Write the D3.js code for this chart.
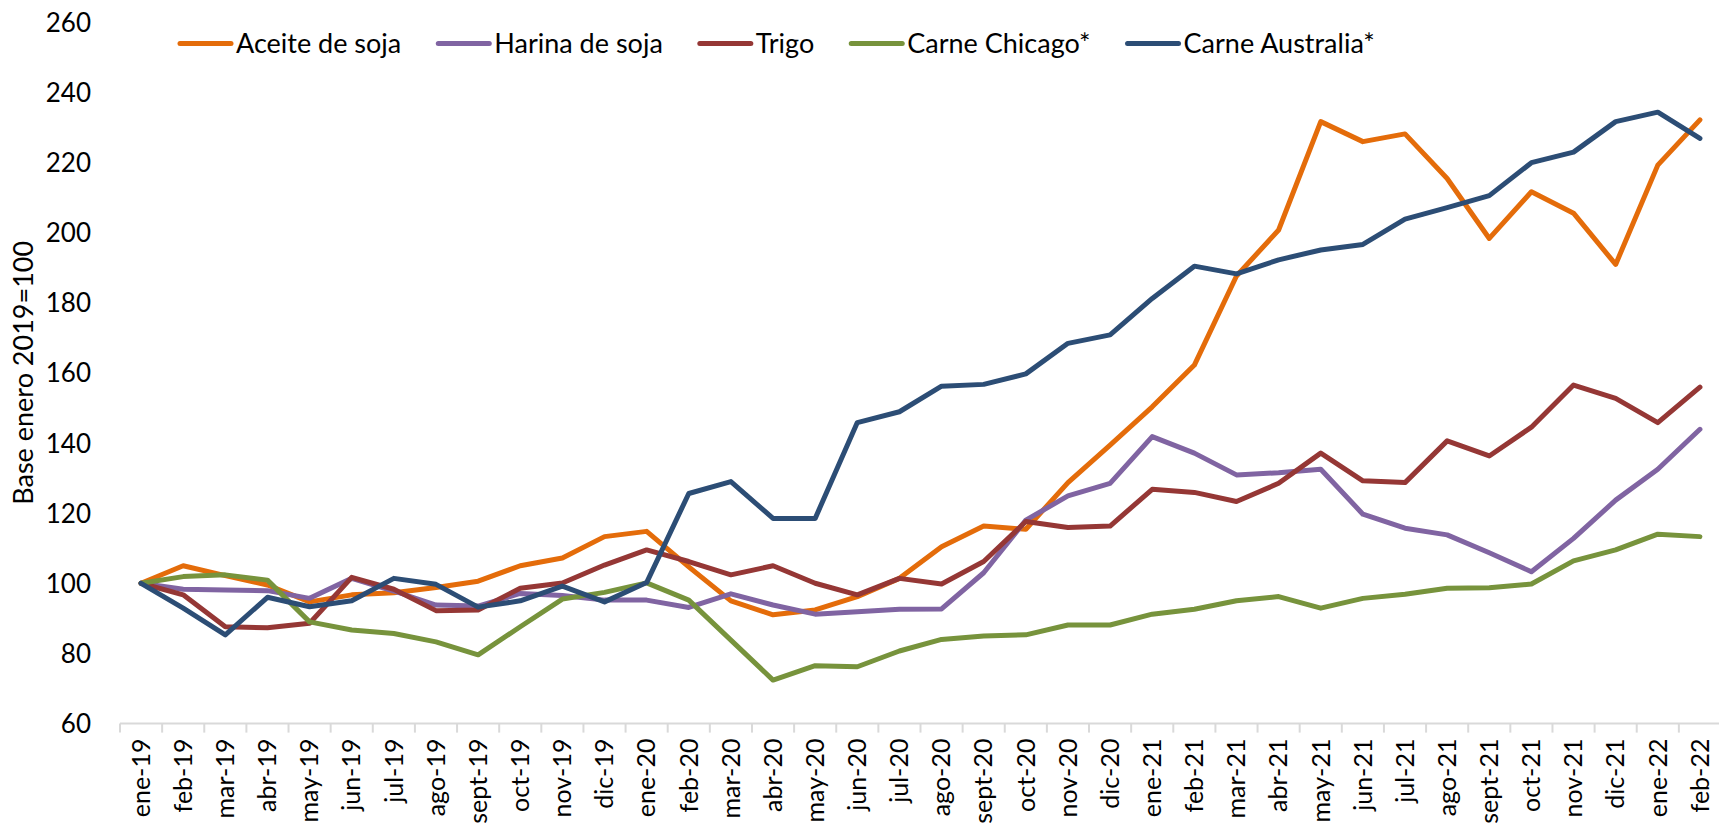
<!DOCTYPE html>
<html>
<head>
<meta charset="utf-8">
<script src="https://cdn.jsdelivr.net/npm/d3@7"></script>
<style>
  html, body { margin: 0; padding: 0; background: #ffffff; }
  svg { display: block; }
  text { font-family: Lato, "Open Sans", sans-serif; fill: #000; }
</style>
</head>
<body>
<svg id="chart" width="1719" height="833"></svg>
<script>
const months = ["ene-19","feb-19","mar-19","abr-19","may-19","jun-19","jul-19","ago-19","sept-19","oct-19","nov-19","dic-19",
  "ene-20","feb-20","mar-20","abr-20","may-20","jun-20","jul-20","ago-20","sept-20","oct-20","nov-20","dic-20",
  "ene-21","feb-21","mar-21","abr-21","may-21","jun-21","jul-21","ago-21","sept-21","oct-21","nov-21","dic-21",
  "ene-22","feb-22"];

const aceiteSoja = [100,105.0,102.2,99.5,94.7,96.7,97.3,98.8,100.6,105.0,107.2,113.3,
  114.8,104.7,95.0,91.0,92.4,96.2,101.4,110.4,116.3,115.4,128.7,139.4,
  150.3,162.2,187.6,200.7,231.6,225.9,228.1,215.4,198.3,211.6,205.5,190.9,
  219.2,232.1];
const harinaSoja = [100,98.3,98.1,97.9,95.7,101.4,97.8,93.8,93.5,97.1,96.5,95.2,
  95.2,93.1,97.0,93.8,91.2,91.9,92.6,92.7,103.0,118.0,124.9,128.5,
  141.8,137.1,130.9,131.5,132.5,119.7,115.7,113.8,108.7,103.3,112.8,123.7,
  132.5,143.9];
const trigo = [100,96.7,87.6,87.3,88.6,101.7,98.3,92.2,92.4,98.6,100.1,105.2,
  109.5,106.2,102.4,105.0,100.0,96.7,101.4,99.8,106.2,117.6,115.9,116.3,
  126.8,125.9,123.3,128.5,137.1,129.2,128.7,140.6,136.3,144.5,156.5,152.7,
  145.8,155.9];
const carneChicago = [100,101.9,102.4,100.9,89.0,86.7,85.7,83.3,79.6,87.6,95.5,97.4,
  100.1,95.2,83.8,72.4,76.5,76.2,80.7,84.0,85.0,85.3,88.1,88.1,
  91.2,92.6,95.0,96.2,92.9,95.7,96.9,98.6,98.7,99.8,106.4,109.5,
  114.0,113.3];
const carneAustralia = [100,92.9,85.3,96.0,93.3,95.0,101.4,99.7,93.2,95.0,99.2,94.7,
  100.2,125.6,129.0,118.5,118.5,145.8,148.9,156.2,156.7,159.7,168.4,170.8,
  181.2,190.4,188.2,192.2,195.0,196.6,203.8,207.1,210.5,219.9,222.9,231.6,
  234.3,226.8];

const seriesNames = ["Aceite de soja","Harina de soja","Trigo","Carne Chicago*","Carne Australia*"];
const seriesValues = [aceiteSoja, harinaSoja, trigo, carneChicago, carneAustralia];
const seriesColors = ["#E46C0A","#8064A2","#953735","#77933C","#2C4D75"];
const yTicks = [60,80,100,120,140,160,180,200,220,240,260];
const yTitle = "Base enero 2019=100";

const svg = d3.select("#chart");

const x = d3.scaleBand().domain(months).range([120, 1721]).paddingInner(0).paddingOuter(0);
const y = d3.scaleLinear().domain([60, 260]).range([723.6, 22]);
const cx = m => x(m) + x.bandwidth() / 2;

// X axis line + ticks between categories
const axisY = y(60);
svg.append("line")
  .attr("x1", x.range()[0]).attr("x2", x.range()[1])
  .attr("y1", axisY).attr("y2", axisY)
  .attr("stroke", "#D9D9D9").attr("stroke-width", 2);
const bounds = months.map(m => x(m)).concat([x.range()[1]]);
svg.append("g").selectAll("line").data(bounds).join("line")
  .attr("x1", d => d).attr("x2", d => d)
  .attr("y1", axisY).attr("y2", axisY + 9)
  .attr("stroke", "#D9D9D9").attr("stroke-width", 2);

// X labels (via axis)
const xAxis = svg.append("g")
  .attr("transform", `translate(0,${axisY})`)
  .call(d3.axisBottom(x).tickSize(0).tickPadding(0));
xAxis.select(".domain").remove();
xAxis.selectAll("text")
  .attr("font-family", "Lato, sans-serif")
  .attr("font-size", 25)
  .attr("fill", "#000")
  .attr("text-anchor", "end")
  .attr("y", 0).attr("dy", "0.35em")
  .attr("transform", "translate(0,15) rotate(-90)")
  .attr("x", 0);

// Y labels (via axis)
const yAxis = svg.append("g")
  .attr("transform", "translate(91,0)")
  .call(d3.axisLeft(y).tickValues(yTicks).tickSize(0).tickPadding(0).tickFormat(d3.format("d")));
yAxis.select(".domain").remove();
yAxis.selectAll("text")
  .attr("font-family", "Lato, sans-serif")
  .attr("font-size", 26)
  .attr("fill", "#000")
  .attr("dy", "0.35em");

// Y title
svg.append("text")
  .attr("transform", `translate(33,${(y(60) + y(260)) / 2}) rotate(-90)`)
  .attr("text-anchor", "middle")
  .attr("font-size", 27)
  .text(yTitle);

// Lines
const line = d3.line()
  .x((d, i) => cx(months[i]))
  .y(d => y(d));
svg.append("g").selectAll("path").data(seriesValues).join("path")
  .attr("d", d => line(d))
  .attr("fill", "none")
  .attr("stroke", (d, i) => seriesColors[i])
  .attr("stroke-width", 5)
  .attr("stroke-linejoin", "round")
  .attr("stroke-linecap", "round");

// Legend
const legend = svg.append("g");
let lx = 178;
const ly = 43.5;
seriesNames.forEach((name, i) => {
  legend.append("line")
    .attr("x1", lx + 2).attr("x2", lx + 53)
    .attr("y1", ly).attr("y2", ly)
    .attr("stroke", seriesColors[i]).attr("stroke-width", 5)
    .attr("stroke-linecap", "round");
  const t = legend.append("text")
    .attr("x", lx + 58).attr("y", ly).attr("dy", "0.35em")
    .attr("font-size", 27)
    .text(name);
  const w = t.node().getComputedTextLength();
  lx = lx + 58 + w + 35;
});
</script>
</body>
</html>
